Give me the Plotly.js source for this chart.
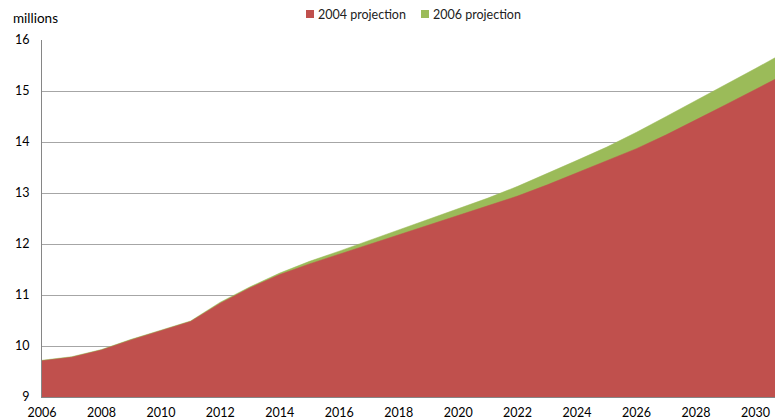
<!DOCTYPE html>
<html>
<head>
<meta charset="utf-8">
<script src="https://cdn.plot.ly/plotly-3.0.1.min.js"></script>
<style>html,body{margin:0;padding:0;background:#fff;}#chart{width:775px;height:419px;}</style>
</head>
<body>
<div id="chart"></div>
<script>
const years = [2006,2007,2008,2009,2010,2011,2012,2013,2014,2015,2016,2017,2018,2019,2020,2021,2022,2023,2024,2025,2026,2027,2028,2029,2030,2031];
const proj2004 = [9.71,9.78,9.92,10.12,10.30,10.48,10.84,11.14,11.40,11.61,11.80,11.99,12.18,12.37,12.56,12.74,12.94,13.16,13.40,13.63,13.87,14.14,14.43,14.73,15.03,15.33];
const proj2006 = [9.72,9.79,9.93,10.13,10.31,10.49,10.86,11.16,11.43,11.66,11.86,12.07,12.28,12.49,12.69,12.90,13.13,13.38,13.64,13.90,14.19,14.50,14.81,15.12,15.44,15.76];
const seriesNames = ['2004 projection','2006 projection'];
const colors = ['#C0504D','#9BBB59'];

const W = 775, H = 419, M = {l: 42, r: 0, t: 40, b: 22};
const pw = W - M.l - M.r, ph = H - M.t - M.b;
const px = x => (x - M.l) / pw;          // pixel -> paper x
const py = y => (H - M.b - y) / ph;      // pixel -> paper y

const traces = [
  {x: years, y: proj2006, name: seriesNames[1], type: 'scatter', mode: 'lines',
   fill: 'tozeroy', fillcolor: colors[1], line: {color: colors[1], width: 0.5}},
  {x: years, y: proj2004, name: seriesNames[0], type: 'scatter', mode: 'lines',
   fill: 'tozeroy', fillcolor: colors[0], line: {color: colors[0], width: 0.5}}
];

// custom legend (small square swatches like the reference)
const legendItems = [
  {name: seriesNames[0], color: colors[0], sx: 306},
  {name: seriesNames[1], color: colors[1], sx: 421}
];
const shapes = legendItems.map(it => ({
  type: 'rect', xref: 'paper', yref: 'paper',
  x0: px(it.sx), x1: px(it.sx + 8), y0: py(18), y1: py(10),
  fillcolor: it.color, line: {width: 0}
}));
const annotations = legendItems.map(it => ({
  text: it.name, xref: 'paper', yref: 'paper', x: px(it.sx + 10), y: py(14),
  xanchor: 'left', yanchor: 'middle', showarrow: false, font: {size: 12.5, color: '#222'}
}));
annotations.push({text: 'millions', xref: 'paper', yref: 'paper', x: px(11), y: py(18),
  xanchor: 'left', yanchor: 'middle', showarrow: false, font: {size: 13.5, color: '#000'}});

const layout = {
  width: W, height: H,
  margin: {l: M.l, r: M.r, t: M.t, b: M.b, autoexpand: false},
  paper_bgcolor: '#ffffff', plot_bgcolor: '#ffffff',
  font: {family: 'Lato, "Open Sans", sans-serif', size: 12.5, color: '#000'},
  showlegend: false,
  xaxis: {range: [2006, 2030.66], tick0: 2006, dtick: 2, showgrid: false, zeroline: false,
          showline: true, linecolor: '#868686', linewidth: 1, ticks: '', ticklabelstandoff: 4,
          fixedrange: true},
  yaxis: {range: [9, 16], dtick: 1, showgrid: true, gridcolor: '#A6A6A6', gridwidth: 1,
          zeroline: false, showline: true, linecolor: '#868686', linewidth: 1,
          ticks: '', ticklabelstandoff: 9, fixedrange: true},
  shapes: shapes,
  annotations: annotations
};

Plotly.newPlot('chart', traces, layout, {displayModeBar: false, staticPlot: true});
</script>
</body>
</html>
